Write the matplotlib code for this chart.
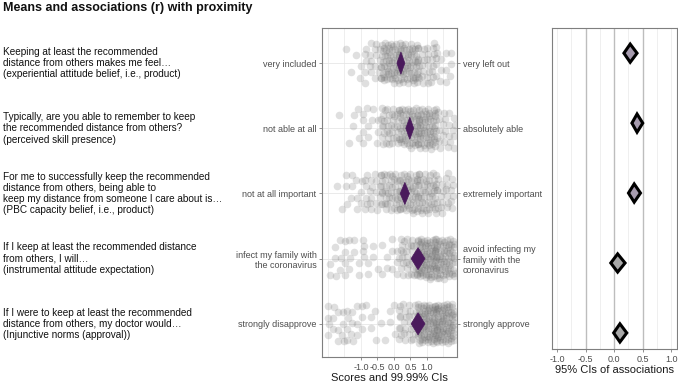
import numpy as np
import matplotlib
matplotlib.use('Agg')
import matplotlib.pyplot as plt
from matplotlib.patches import Polygon

plt.rcParams['font.family'] = ['Liberation Sans', 'DejaVu Sans']

# item texts (top to bottom)
items = [
    "Keeping at least the recommended\ndistance from others makes me feel\u2026\n(experiential attitude belief, i.e., product)",
    "Typically, are you able to remember to keep\nthe recommended distance from others?\n(perceived skill presence)",
    "For me to successfully keep the recommended\ndistance from others, being able to\nkeep my distance from someone I care about is\u2026\n(PBC capacity belief, i.e., product)",
    "If I keep at least the recommended distance\nfrom others, I will\u2026\n(instrumental attitude expectation)",
    "If I were to keep at least the recommended\ndistance from others, my doctor would\u2026\n(Injunctive norms (approval))",
]
left_anchors = ["very included", "not able at all", "not at all important",
                "infect my family with\nthe coronavirus", "strongly disapprove"]
right_anchors = ["very left out", "absolutely able", "extremely important",
                 "avoid infecting my\nfamily with the\ncoronavirus", "strongly approve"]

# response levels and how many respondents gave each
levels = [-1.75, -1.2, -0.65, -0.1, 0.45, 1.0, 1.55]
counts_1 = [0, 5, 20, 58, 56, 30, 12]
counts_2 = [1, 7, 11, 35, 56, 63, 21]
counts_3 = [2, 12, 22, 39, 49, 45, 25]
counts_4 = [11, 10, 7, 10, 35, 77, 63]
counts_5 = [14, 14, 6, 7, 28, 77, 77]
counts = [counts_1, counts_2, counts_3, counts_4, counts_5]

# means with 99.99% CIs
mean_est = [0.21, 0.48, 0.33, 0.73, 0.73]
mean_lo = [0.09, 0.36, 0.19, 0.52, 0.52]
mean_hi = [0.33, 0.60, 0.47, 0.94, 0.94]

# associations (r) with 95% CIs
r_est = [0.28, 0.40, 0.35, 0.06, 0.10]
r_lo = [0.17, 0.31, 0.25, -0.06, -0.01]
r_hi = [0.40, 0.50, 0.46, 0.19, 0.22]
r_fill = ['#a69bae', '#a69bae', '#a69bae', '#a8a8a8', '#a8a8a8']

n = len(items)
ypos = np.arange(n, 0, -1)

fig = plt.figure(figsize=(6.78, 3.83), dpi=100)
ax = fig.add_axes([322 / 678, 1 - 357 / 383, 135 / 678, 329 / 383])
ax2 = fig.add_axes([552 / 678, 1 - 349 / 383, 125 / 678, 321 / 383])

frame_col = '#7f7f7f'
for a in (ax, ax2):
    for s in a.spines.values():
        s.set_color(frame_col)
        s.set_linewidth(0.8)

# left panel: jittered raw scores
ax.set_xlim(-2.18, 1.91)
ax.set_ylim(0.49, 5.54)
for g in np.arange(-2.0, 1.6, 0.5):
    ax.axvline(g, color='#ebebeb', lw=0.6, zorder=0)
for y in ypos:
    ax.axhline(y, color='#e6e6e6', lw=0.6, zorder=0)

a1, a2 = 0.7548776662, 0.5698402910
for row, (y, cnt) in enumerate(zip(ypos, counts)):
    px, py = [], []
    for li, (lv, c) in enumerate(zip(levels, cnt)):
        j = np.arange(c) + 0.5
        off = 0.137 * (row + 1) + 0.291 * li
        # deterministic jitter (R2 low-discrepancy sequence)
        jx = ((j * a1 + off) % 1 - 0.5) * 0.6
        jy = ((j * a2 + 2 * off) % 1 - 0.5) * 0.62
        px.append(lv + jx)
        py.append(y + jy)
    ax.scatter(np.concatenate(px), np.concatenate(py), s=30, color='#6a6a6a',
               alpha=0.21, linewidths=0, zorder=2)

for y, m, lo, hi in zip(ypos, mean_est, mean_lo, mean_hi):
    h = 0.17
    ax.add_patch(Polygon([[lo, y], [m, y + h], [hi, y], [m, y - h]],
                         closed=True, facecolor='#4a1a5c', edgecolor='#4a1a5c',
                         lw=0.5, zorder=3))

ax.set_yticks(ypos)
ax.set_yticklabels(left_anchors)
ax.set_xticks([-1.0, -0.5, 0.0, 0.5, 1.0])
ax.set_xticklabels(['-1.0', '-0.5', '0.0', '0.5', '1.0'])
ax.tick_params(axis='both', labelsize=6.5, labelcolor='#4d4d4d', color=frame_col,
               length=2.5, width=0.6, pad=1.5)
ax.tick_params(axis='y', right=True)
ax.set_xlabel('Scores and 99.99% CIs', fontsize=8, color='#1a1a1a', labelpad=1)

ax_r = ax.twinx()
ax_r.set_ylim(ax.get_ylim())
ax_r.set_yticks(ypos)
ax_r.set_yticklabels(right_anchors, ha='left')
ax_r.tick_params(axis='y', labelsize=6.5, labelcolor='#4d4d4d', color=frame_col,
                 length=2.5, width=0.6, pad=1.5)
for s in ax_r.spines.values():
    s.set_visible(False)

# item texts
for y, txt in zip(ypos, items):
    fy = ax.transData.transform((0, y))[1]
    fy = fig.transFigure.inverted().transform((0, fy))[1]
    fig.text(3 / 678, fy, txt, ha='left', va='center', fontsize=7.2,
             color='#111111', linespacing=1.15)

# right panel: associations
ax2.set_xlim(-1.09, 1.1)
ax2.set_ylim(0.77, 5.36)
for g in [-1.0, -0.75, -0.25, 0.25, 0.75, 1.0]:
    ax2.axvline(g, color='#ececec', lw=0.6, zorder=0)
for g in [-0.5, 0.0, 0.5]:
    ax2.axvline(g, color='#bdbdbd', lw=1.0, zorder=0)

for y, m, lo, hi, fc in zip(ypos, r_est, r_lo, r_hi, r_fill):
    h = 0.13
    ax2.add_patch(Polygon([[lo, y], [m, y + h], [hi, y], [m, y - h]],
                          closed=True, facecolor=fc, edgecolor='black',
                          lw=2.2, joinstyle='miter', zorder=3))

ax2.set_yticks([])
ax2.set_xticks([-1.0, -0.5, 0.0, 0.5, 1.0])
ax2.set_xticklabels(['-1.0', '-0.5', '0.0', '0.5', '1.0'])
ax2.tick_params(axis='x', labelsize=6.5, labelcolor='#4d4d4d', color=frame_col,
                length=2.5, width=0.6, pad=1.5)
ax2.set_xlabel('95% CIs of associations', fontsize=8, color='#1a1a1a', labelpad=1)

fig.text(3 / 678, 1 - 8 / 383, 'Means and associations (r) with proximity',
         ha='left', va='center', fontsize=9, fontweight='bold', color='#111111')

fig.savefig('out.png', dpi=100)
